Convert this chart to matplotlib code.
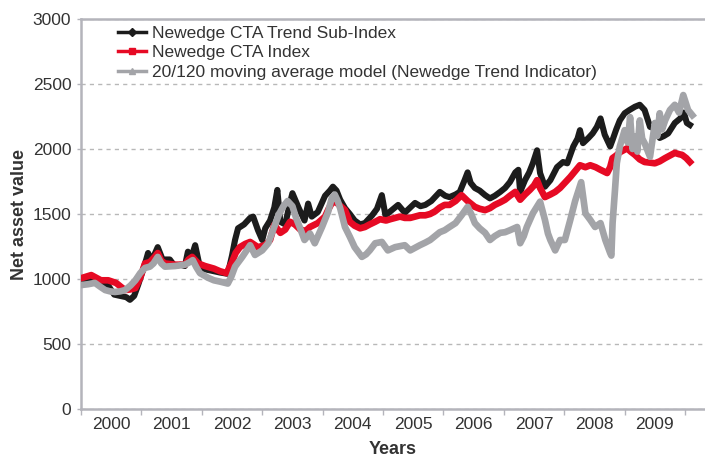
import matplotlib
matplotlib.use("Agg")
import matplotlib.pyplot as plt
from matplotlib.lines import Line2D

plt.rcParams["font.family"] = ["Liberation Sans Narrow", "Liberation Sans", "DejaVu Sans"]

# Newedge CTA Trend Sub-Index (decimal years)
trend_t = [2000.03, 2000.15, 2000.3, 2000.45, 2000.55, 2000.65, 2000.75, 2000.81, 2000.88, 2000.95,
           2001.02, 2001.08, 2001.11, 2001.17, 2001.27, 2001.35, 2001.47, 2001.55, 2001.65, 2001.72,
           2001.77, 2001.83, 2001.89, 2001.95, 2002.0, 2002.1, 2002.2, 2002.3, 2002.43, 2002.5,
           2002.55, 2002.6, 2002.7, 2002.8, 2002.85, 2002.93, 2003.0, 2003.05, 2003.13, 2003.2,
           2003.25, 2003.3, 2003.38, 2003.46, 2003.5, 2003.6, 2003.7, 2003.76, 2003.82, 2003.92,
           2004.04, 2004.12, 2004.17, 2004.23, 2004.29, 2004.37, 2004.45, 2004.53, 2004.62, 2004.7,
           2004.82, 2004.9, 2004.98, 2005.04, 2005.12, 2005.25, 2005.36, 2005.45, 2005.53, 2005.62,
           2005.7, 2005.8, 2005.86, 2005.94, 2006.03, 2006.1, 2006.2, 2006.27, 2006.35, 2006.4,
           2006.45, 2006.52, 2006.6, 2006.69, 2006.77, 2006.85, 2006.94, 2007.02, 2007.1, 2007.19,
           2007.24, 2007.27, 2007.35, 2007.42, 2007.48, 2007.55, 2007.6, 2007.68, 2007.77, 2007.88,
           2007.98, 2008.05, 2008.15, 2008.22, 2008.26, 2008.31, 2008.4, 2008.47, 2008.54, 2008.6,
           2008.67, 2008.76, 2008.8, 2008.86, 2008.92, 2009.0, 2009.08, 2009.17, 2009.25, 2009.33,
           2009.42, 2009.5, 2009.58, 2009.65, 2009.72, 2009.83, 2009.92, 2009.98, 2010.03, 2010.08]
trend_v = [990, 985, 960, 950, 880, 870, 860, 840, 870, 960,
           1060, 1150, 1200, 1140, 1245, 1150, 1150, 1100, 1110, 1100,
           1210, 1170, 1260, 1130, 1080, 1070, 1060, 1050, 1040, 1180,
           1300, 1390, 1420, 1470, 1480, 1375, 1300, 1390, 1450, 1550,
           1685, 1440, 1420, 1585, 1660, 1550, 1450, 1580, 1480, 1515,
           1640, 1680, 1710, 1680, 1610, 1545, 1500, 1450, 1420, 1430,
           1490, 1540, 1645, 1490, 1520, 1570, 1510, 1550, 1585, 1560,
           1570, 1600, 1630, 1670, 1640, 1630, 1650, 1670, 1760, 1820,
           1740, 1700, 1680, 1645, 1620, 1640, 1670, 1700, 1745, 1820,
           1840, 1670, 1760, 1820, 1890, 1990, 1815, 1710, 1760, 1860,
           1900, 1890, 2020, 2080, 2145, 2045, 2085, 2120, 2170, 2235,
           2110, 2020, 2070, 2150, 2220, 2275, 2300, 2325, 2340, 2300,
           2170, 2160, 2085, 2100, 2120, 2200, 2235, 2280, 2200, 2185]

# Newedge CTA Index
cta_t = [2000.03, 2000.1, 2000.17, 2000.25, 2000.33, 2000.45, 2000.58, 2000.66, 2000.73, 2000.82,
         2000.9, 2000.98, 2001.06, 2001.14, 2001.22, 2001.27, 2001.33, 2001.39, 2001.56, 2001.72,
         2001.78, 2001.84, 2001.94, 2002.05, 2002.2, 2002.3, 2002.41, 2002.5, 2002.56, 2002.63,
         2002.72, 2002.8, 2002.93, 2003.05, 2003.13, 2003.2, 2003.3, 2003.38, 2003.46, 2003.54,
         2003.63, 2003.72, 2003.79, 2003.92, 2004.04, 2004.1, 2004.17, 2004.25, 2004.37, 2004.45,
         2004.53, 2004.62, 2004.7, 2004.78, 2004.87, 2004.95, 2005.05, 2005.12, 2005.2, 2005.28,
         2005.36, 2005.45, 2005.53, 2005.61, 2005.7, 2005.78, 2005.86, 2005.94, 2006.02, 2006.1,
         2006.2, 2006.3, 2006.4, 2006.52, 2006.6, 2006.69, 2006.77, 2006.85, 2006.94, 2007.02,
         2007.1, 2007.19, 2007.27, 2007.35, 2007.43, 2007.5, 2007.55, 2007.6, 2007.68, 2007.77,
         2007.85, 2007.93, 2008.01, 2008.1, 2008.18, 2008.26, 2008.35, 2008.43, 2008.52, 2008.6,
         2008.71, 2008.76, 2008.8, 2008.86, 2008.92, 2009.04, 2009.1, 2009.17, 2009.25, 2009.33,
         2009.42, 2009.5, 2009.58, 2009.67, 2009.75, 2009.83, 2009.9, 2009.95, 2010.02, 2010.08]
cta_v = [1010, 1020, 1030, 1010, 990, 990, 970, 940, 915, 920,
         930, 1010, 1120, 1130, 1170, 1200, 1140, 1120, 1110, 1110,
         1150, 1170, 1120, 1100, 1080, 1060, 1045, 1130, 1200, 1245,
         1270, 1285, 1245, 1260, 1300, 1415, 1355, 1380, 1440, 1420,
         1380, 1370, 1400, 1430, 1480, 1540, 1600, 1580, 1530, 1440,
         1410, 1390, 1400, 1420, 1440, 1460, 1450, 1460, 1470, 1480,
         1470, 1470, 1480, 1490, 1490, 1500, 1520, 1550, 1570, 1570,
         1600, 1645, 1600, 1555, 1540, 1530, 1545, 1570, 1590, 1610,
         1640, 1670, 1610, 1650, 1685, 1720, 1760, 1700, 1630, 1650,
         1670, 1700, 1740, 1785, 1830, 1875, 1860, 1875, 1860, 1840,
         1815, 1860, 1930, 1950, 1975, 2005, 1980, 1955, 1920, 1900,
         1895, 1890, 1905, 1930, 1950, 1970, 1960, 1955, 1930, 1900]

# 20/120 moving average model (Newedge Trend Indicator)
ma_t = [2000.03, 2000.12, 2000.23, 2000.32, 2000.4, 2000.48, 2000.56, 2000.65, 2000.73, 2000.82,
        2000.9, 2000.98, 2001.06, 2001.14, 2001.2, 2001.27, 2001.33, 2001.39, 2001.56, 2001.72,
        2001.8, 2001.85, 2001.91, 2001.97, 2002.1, 2002.2, 2002.3, 2002.43, 2002.49, 2002.55,
        2002.67, 2002.8, 2002.88, 2003.0, 2003.1, 2003.21, 2003.28, 2003.35, 2003.42, 2003.5,
        2003.56, 2003.62, 2003.7, 2003.79, 2003.87, 2003.99, 2004.09, 2004.15, 2004.2, 2004.25,
        2004.29, 2004.37, 2004.45, 2004.53, 2004.65, 2004.72, 2004.78, 2004.87, 2004.98, 2005.08,
        2005.2, 2005.36, 2005.45, 2005.53, 2005.61, 2005.7, 2005.78, 2005.86, 2005.94, 2006.02,
        2006.1, 2006.2, 2006.3, 2006.4, 2006.46, 2006.52, 2006.6, 2006.69, 2006.77, 2006.85,
        2006.94, 2007.02, 2007.1, 2007.22, 2007.27, 2007.33, 2007.38, 2007.48, 2007.6, 2007.68,
        2007.73, 2007.77, 2007.85, 2007.93, 2008.01, 2008.1, 2008.18, 2008.28, 2008.35, 2008.43,
        2008.51, 2008.6, 2008.68, 2008.76, 2008.78, 2008.8, 2008.84, 2008.87, 2008.92, 2009.0,
        2009.05, 2009.09, 2009.13, 2009.17, 2009.21, 2009.25, 2009.29, 2009.33, 2009.42, 2009.5,
        2009.54, 2009.58, 2009.62, 2009.67, 2009.75, 2009.83, 2009.9, 2009.97, 2010.05, 2010.12]
ma_v = [955, 960, 970, 940, 915, 905, 900, 905, 915, 950,
        990, 1045, 1085, 1095, 1120, 1170, 1120, 1095, 1100, 1110,
        1130, 1145, 1090, 1045, 1010, 990, 980, 965, 1020, 1095,
        1170, 1260, 1185, 1220, 1275, 1415, 1500, 1560, 1600, 1560,
        1470, 1400, 1300, 1350, 1275, 1400, 1515, 1620, 1650, 1600,
        1545, 1400, 1325, 1245, 1170, 1190, 1220, 1275, 1285, 1220,
        1245, 1260, 1220, 1240, 1260, 1280, 1300, 1330, 1360, 1375,
        1400, 1430, 1490, 1555, 1500, 1430, 1390, 1355, 1300, 1330,
        1355, 1360, 1375, 1400, 1275, 1330, 1400, 1505, 1595, 1455,
        1350, 1300, 1220, 1300, 1300, 1455, 1600, 1745, 1505, 1455,
        1400, 1430, 1300, 1200, 1180, 1430, 1685, 1890, 2020, 2145,
        2050, 2245, 2000, 2095, 1980, 2220, 2080, 2045, 1940, 2200,
        2100, 2275, 2150, 2220, 2300, 2340, 2280, 2415, 2300, 2260]

years = list(range(2000, 2010))

c_black = "#1c1c1c"
c_red = "#e60a24"
c_gray = "#a3a4a8"
c_axis = "#b4b4bb"
c_text = "#333333"

fig = plt.figure(figsize=(7.05, 4.59), dpi=100)
ax = fig.add_axes([81 / 705, 1 - 409 / 459, 1 - 81 / 705, (409 - 19) / 459])

ax.plot(trend_t, trend_v, color=c_black, lw=4.4, zorder=3)
ax.plot(cta_t, cta_v, color=c_red, lw=4.8, zorder=4)
ax.plot(ma_t, ma_v, color=c_gray, lw=4.8, zorder=5)

ax.set_xlim(2000, 2010.33)
ax.set_ylim(0, 3000)
ax.set_yticks(range(0, 3001, 500))
ax.yaxis.grid(True, color="#b8b8b8", ls=(0, (3, 3)), lw=1.0)
ax.set_axisbelow(True)

ax.set_xticks(list(range(2000, 2011)))
ax.set_xticklabels([])
ax.set_xticks([y + 0.5 for y in years], minor=True)
ax.set_xticklabels([str(y) for y in years], minor=True)
ax.tick_params(axis="x", which="major", length=4, width=1, color=c_axis, direction="out")
ax.tick_params(axis="x", which="minor", length=0, pad=6, labelsize=12.5, labelcolor=c_text)
ax.tick_params(axis="y", length=3, width=1, color=c_axis, pad=4, labelsize=12.5, labelcolor=c_text)

for side in ("left", "bottom", "top"):
    ax.spines[side].set_color(c_axis)
    ax.spines[side].set_linewidth(1.8)
ax.spines["right"].set_visible(False)

ax.set_ylabel("Net asset value", fontsize=13, fontweight="bold", color=c_text, labelpad=3)
ax.set_xlabel("Years", fontsize=13, fontweight="bold", color=c_text, labelpad=6)

handles = [
    Line2D([], [], color=c_black, lw=2.5, marker="D", ms=4),
    Line2D([], [], color=c_red, lw=2.5, marker="s", ms=4.5),
    Line2D([], [], color=c_gray, lw=2.5, marker="^", ms=5),
]
labels = ["Newedge CTA Trend Sub-Index", "Newedge CTA Index",
          "20/120 moving average model (Newedge Trend Indicator)"]
leg = ax.legend(handles, labels, loc="upper left", bbox_to_anchor=(0.045, 1.005), frameon=False,
                fontsize=12.5, handlelength=1.6, handletextpad=0.35, labelspacing=0.25,
                borderaxespad=0.1)
for txt in leg.get_texts():
    txt.set_color(c_text)

fig.savefig("out.png", dpi=100)
